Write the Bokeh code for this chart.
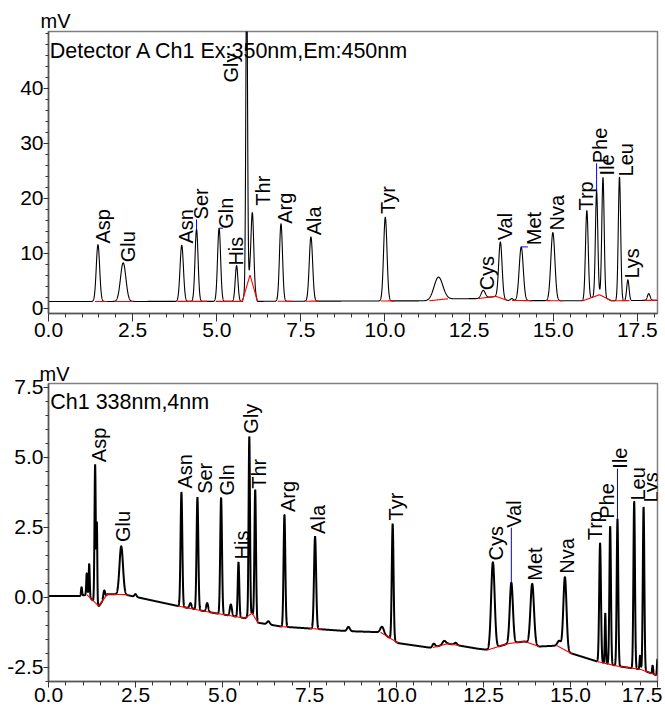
import numpy as np
from bokeh.plotting import figure
from bokeh.layouts import column
from bokeh.models import Range1d, SingleIntervalTicker, FixedTicker, Label, Title, PrintfTickFormatter
from bokeh.embed import file_html
from bokeh.resources import INLINE

# ---------------- top chart: Detector A Ch1 Ex:350nm, Em:450nm ----------------
top_rt    = [1.47, 2.22, 3.96, 4.40, 5.07, 5.59, 5.89, 6.06, 6.91, 7.80, 10.01, 11.59, 12.92, 13.43, 13.77, 14.05, 14.99, 16.00, 16.29, 16.48, 16.97, 17.22, 17.84]
top_apex  = [11.6, 8.3, 11.5, 14.4, 14.6, 7.8, 62.0, 17.4, 15.4, 13.0, 16.6, 5.7, 3.3, 12.1, 1.8, 11.2, 13.8, 17.8, 21.3, 23.8, 23.9, 5.2, 2.7]
top_sigma = [0.05, 0.08, 0.05, 0.045, 0.045, 0.04, 0.025, 0.04, 0.045, 0.05, 0.05, 0.13, 0.06, 0.05, 0.04, 0.06, 0.06, 0.04, 0.035, 0.035, 0.035, 0.035, 0.04]

top_base_t  = [0.0, 5.76, 5.99, 6.21, 11.3, 11.85, 12.76, 13.30, 13.65, 15.88, 16.38, 16.73, 18.1]
top_base_mv = [1.27, 1.3, 6.1, 1.3, 1.4, 1.75, 1.8, 2.2, 1.45, 1.4, 2.5, 1.4, 1.5]

top_red_start = [1.38, 1.99, 3.83, 4.97, 6.81, 7.65, 9.88, 11.32, 12.76, 13.78, 14.79, 15.88, 17.72]
top_red_end   = [1.75, 2.52, 4.72, 6.21, 7.25, 8.04, 10.28, 11.87, 13.65, 14.35, 15.29, 17.27, 18.1]

top_labels   = ["Asp", "Glu", "Asn", "Ser", "Gln", "His", "Gly", "Thr", "Arg", "Ala", "Tyr", "Cys", "Val", "Met", "Nva", "Trp", "Phe", "Ile", "Leu", "Lys"]
top_label_t  = [1.40, 2.14, 3.86, 4.32, 5.06, 5.36, 5.21, 6.16, 6.81, 7.68, 9.88, 12.81, 13.35, 14.20, 14.89, 15.74, 16.18, 16.37, 16.93, 17.11]
top_label_mv = [11.8, 8.4, 11.8, 16.2, 14.5, 7.8, 41.1, 18.7, 15.4, 13.3, 17.2, 3.3, 12.4, 11.5, 14.2, 17.8, 26.4, 24.2, 24.0, 5.45]

top_vline_t  = [4.40, 16.29]
top_vline_y0 = [14.4, 21.3]
top_vline_y1 = [16.2, 26.4]
top_hline_t0 = [5.07, 14.05]
top_hline_t1 = [5.19, 14.25]
top_hline_y  = [14.6, 11.2]

top_yticks = [0, 10, 20, 30, 40]

# ---------------- bottom chart: Ch1 338nm,4nm ----------------
bot_rt    = [0.95, 1.10, 1.17, 1.34, 1.39, 1.60, 2.09, 2.50, 3.82, 4.08, 4.28, 4.56, 4.96, 5.24, 5.46, 5.77, 5.94, 6.32, 6.78, 7.66, 8.62, 9.59, 9.89,
             11.07, 11.37, 11.70, 12.77, 13.30, 13.90, 14.68, 14.84, 15.85, 16.00, 16.14, 16.35, 16.83, 17.00, 17.10, 17.36, 17.50]
bot_apex  = [0.37, 0.87, 1.20, 4.75, 2.6, 0.25, 1.83, 0.12, 3.76, -0.2, 3.58, -0.2, 3.56, -0.25, 1.26, 5.75, 3.85, -0.85, 2.95, 2.18, -1.05, -1.05, 2.63,
             -1.65, -1.55, -1.62, 1.26, 0.53, 0.49, -1.55, 0.73, 1.94, -0.56, 2.54, 2.81, 3.43, -2.07, 3.23, -2.43, -2.2]
bot_sigma = [0.015, 0.015, 0.015, 0.018, 0.012, 0.025, 0.05, 0.03, 0.025, 0.03, 0.025, 0.03, 0.025, 0.03, 0.022, 0.02, 0.022, 0.04, 0.025, 0.03, 0.04, 0.05, 0.025,
             0.04, 0.05, 0.04, 0.05, 0.045, 0.05, 0.05, 0.045, 0.025, 0.015, 0.022, 0.022, 0.022, 0.015, 0.022, 0.015, 0.015]

bot_base_t  = [0.0, 0.9, 1.1, 1.45, 1.69, 2.21, 3.74, 4.6, 5.65, 5.85, 6.02, 6.7, 7.66, 8.57, 9.54, 10.05, 11.0, 11.48, 12.34, 12.63, 13.2, 13.68, 14.1, 14.61, 15.01, 15.78, 16.35, 17.02, 17.5]
bot_base_mv = [0.05, 0.05, 0.1, -0.31, 0.12, 0.1, -0.31, -0.52, -0.74, -0.56, -0.9, -1.04, -1.12, -1.2, -1.24, -1.63, -1.8, -1.65, -1.83, -1.87, -1.65, -1.57, -1.75, -1.72, -1.99, -2.29, -2.45, -2.57, -2.79]

bot_red_start = [1.10, 3.70, 5.65, 6.65, 7.50, 9.54, 11.05, 12.60, 14.60, 15.75]
bot_red_end   = [2.30, 5.65, 6.05, 6.90, 7.85, 10.05, 11.80, 14.10, 15.05, 17.50]

bot_labels   = ["Asp", "Glu", "Asn", "Ser", "Gln", "His", "Gly", "Thr", "Arg", "Ala", "Tyr", "Cys", "Val", "Met", "Nva", "Trp", "Phe", "Ile", "Leu", "Lys"]
bot_label_t  = [1.23, 1.92, 3.72, 4.27, 4.91, 5.35, 5.61, 5.82, 6.66, 7.52, 9.76, 12.63, 13.15, 13.77, 14.68, 15.50, 15.82, 16.21, 16.73, 17.11]
bot_label_mv = [4.83, 1.98, 3.89, 3.70, 3.64, 1.36, 5.85, 3.88, 3.05, 2.27, 2.75, 1.32, 2.49, 0.60, 0.85, 2.04, 2.81, 4.60, 3.46, 3.39]

bot_vline_t  = [13.30, 16.35]
bot_vline_y0 = [0.53, 2.81]
bot_vline_y1 = [2.49, 4.60]

FONT = "Liberation Sans"


def trace(t, base_t, base_mv, rt, apex, sigma):
    base = np.interp(t, base_t, base_mv)
    y = base.copy()
    for r, a, s in zip(rt, apex, sigma):
        amp = a - np.interp(r, base_t, base_mv)
        y += amp * np.exp(-0.5 * ((t - r) / s) ** 2)
    return y


def red_segments(starts, ends, base_t, base_mv):
    xs, ys = [], []
    for s, e in zip(starts, ends):
        tt = np.linspace(s, e, 120)
        xs.append(list(tt))
        ys.append(list(np.interp(tt, base_t, base_mv)))
    return xs, ys


def style(p):
    p.xgrid.visible = False
    p.ygrid.visible = False
    p.outline_line_color = "#7f7f7f"
    p.outline_line_width = 1.5
    p.xaxis.ticker = SingleIntervalTicker(interval=2.5, num_minor_ticks=5)
    p.xaxis.formatter = PrintfTickFormatter(format="%.1f")
    for ax in (p.xaxis[0], p.yaxis[0]):
        ax.axis_line_color = "#555555"
        ax.axis_line_width = 1.5
        ax.major_tick_line_color = "#333333"
        ax.minor_tick_line_color = "#333333"
        ax.major_tick_in = 0
        ax.minor_tick_in = 0
        ax.major_label_text_font = FONT
        ax.major_label_text_font_size = "21px"
        ax.major_label_text_color = "#000000"
    p.xaxis.major_tick_out = 8
    p.xaxis.minor_tick_out = 4
    p.xaxis.major_label_standoff = 1
    p.yaxis.major_tick_out = 5
    p.yaxis.minor_tick_out = 3
    p.yaxis.major_label_standoff = 0


# ---------------- top figure ----------------
p1 = figure(width=662, height=350, output_backend="svg", toolbar_location=None,
            x_range=Range1d(0, 18.1), y_range=Range1d(-0.91, 50.36),
            min_border_left=48, min_border_right=5, min_border_top=31, min_border_bottom=37)
style(p1)
p1.yaxis.ticker = FixedTicker(ticks=top_yticks, minor_ticks=list(range(0, 51, 2)))
p1.yaxis.formatter = PrintfTickFormatter(format="%d")
p1.add_layout(Title(text="mV", align="left", offset=-8, standoff=0, text_font=FONT,
                    text_font_size="20px", text_font_style="normal", text_color="black"), "above")

t1 = np.linspace(0, 18.1, 9000)
p1.line(t1, trace(t1, top_base_t, top_base_mv, top_rt, top_apex, top_sigma), line_color="black", line_width=1.1)
rx, ry = red_segments(top_red_start, top_red_end, top_base_t, top_base_mv)
p1.multi_line(rx, ry, line_color="#ff0000", line_width=1.1)
p1.segment(x0=top_vline_t, y0=top_vline_y0, x1=top_vline_t, y1=top_vline_y1, line_color="#0000ff", line_width=1)
p1.segment(x0=top_hline_t0, y0=top_hline_y, x1=top_hline_t1, y1=top_hline_y, line_color="#0000ff", line_width=1)
p1.text(x=top_label_t, y=top_label_mv, text=top_labels, angle=np.pi / 2,
        text_align="left", text_baseline="top", x_offset=-3.5,
        text_font_size="20px", text_font={"value": FONT}, text_color="black")
p1.add_layout(Label(x=0.04, y=46.8, text="Detector A Ch1 Ex:350nm,Em:450nm", text_font=FONT,
                    text_font_size="21.5px", text_baseline="alphabetic", text_align="left",
                    text_color="black"))

# ---------------- bottom figure ----------------
p2 = figure(width=662, height=364, output_backend="svg", toolbar_location=None,
            x_range=Range1d(0, 17.5), y_range=Range1d(-3.0, 7.64),
            min_border_left=46, min_border_right=5, min_border_top=33, min_border_bottom=33)
style(p2)
p2.yaxis.ticker = SingleIntervalTicker(interval=2.5, num_minor_ticks=5)
p2.yaxis.formatter = PrintfTickFormatter(format="%.1f")
p2.xaxis.major_tick_out = 6
p2.xaxis.major_label_standoff = 0
p2.add_layout(Title(text="mV", align="left", offset=-9, standoff=-2, text_font=FONT,
                    text_font_size="20px", text_font_style="normal", text_color="black"), "above")

t2 = np.linspace(0, 17.5, 9000)
p2.line(t2, trace(t2, bot_base_t, bot_base_mv, bot_rt, bot_apex, bot_sigma), line_color="black", line_width=2)
rx2, ry2 = red_segments(bot_red_start, bot_red_end, bot_base_t, bot_base_mv)
p2.multi_line(rx2, ry2, line_color="#ff0000", line_width=1.1)
p2.segment(x0=bot_vline_t, y0=bot_vline_y0, x1=bot_vline_t, y1=bot_vline_y1, line_color="#0000ff", line_width=1)
p2.text(x=bot_label_t, y=bot_label_mv, text=bot_labels, angle=np.pi / 2,
        text_align="left", text_baseline="top", x_offset=-3.5,
        text_font_size="20px", text_font={"value": FONT}, text_color="black")
p2.add_layout(Label(x=0.05, y=6.97, text="Ch1 338nm,4nm", text_font=FONT,
                    text_font_size="21.5px", text_baseline="alphabetic", text_align="left",
                    text_color="black"))

layout = column(p1, p2, spacing=0)
open("out.html", "w").write(file_html(layout, INLINE))
